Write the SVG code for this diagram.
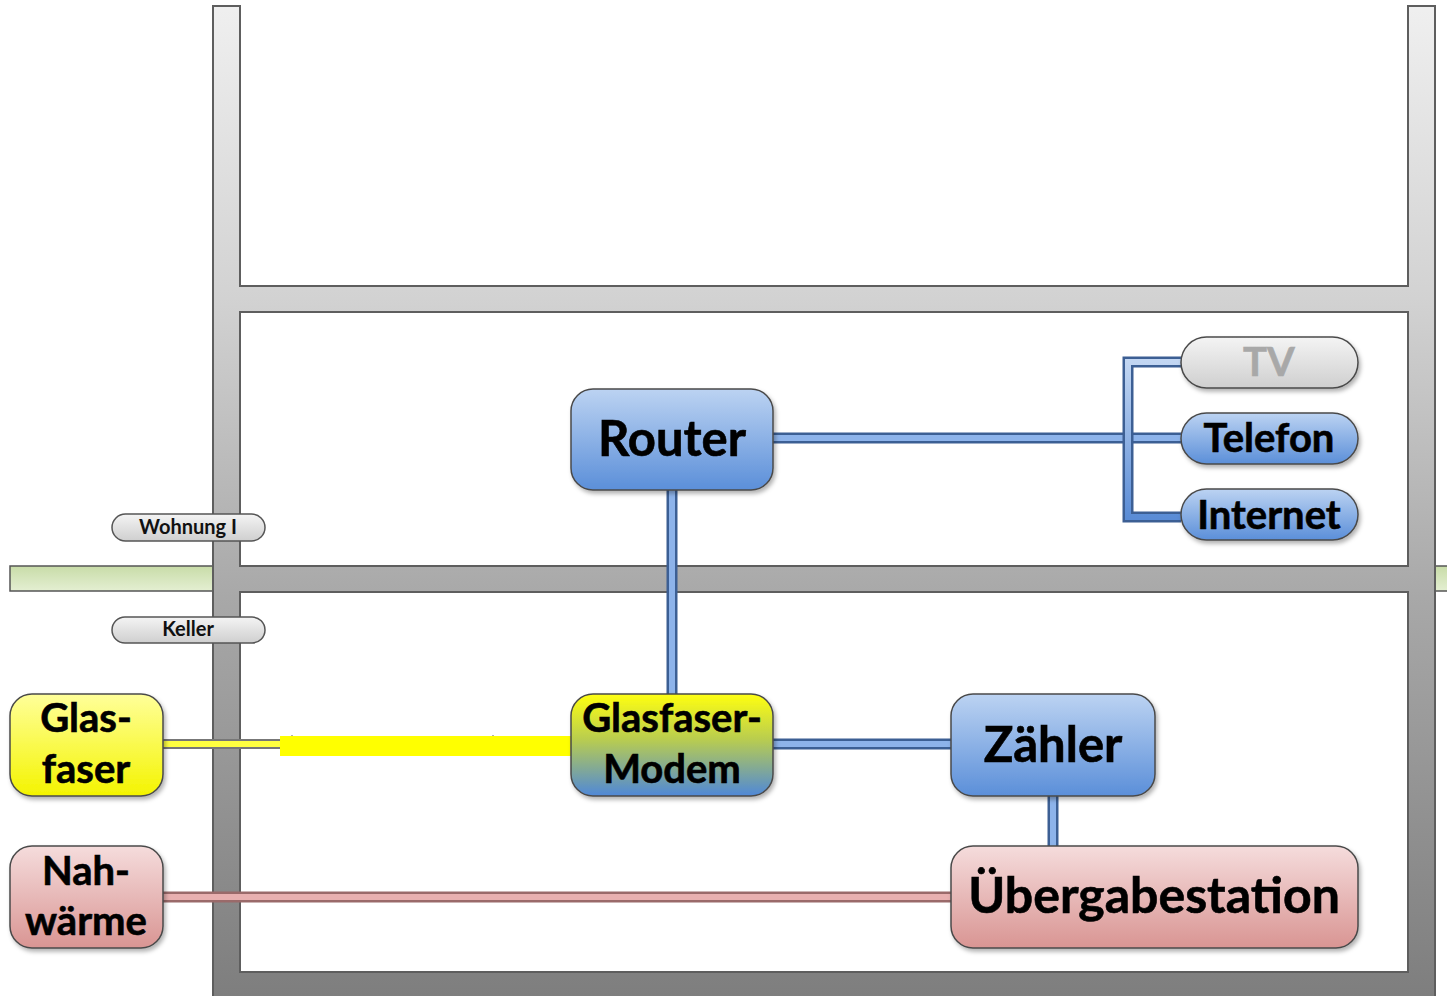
<svg xmlns="http://www.w3.org/2000/svg" width="1447" height="996" viewBox="0 0 1447 996">
<defs>
<linearGradient id="gWall" x1="0" y1="0" x2="0" y2="996" gradientUnits="userSpaceOnUse">
<stop offset="0" stop-color="#f0f0f0"/>
<stop offset="0.3" stop-color="#d2d2d2"/>
<stop offset="0.6" stop-color="#a8a8a8"/>
<stop offset="1" stop-color="#7e7e7e"/>
</linearGradient>
<linearGradient id="gGreen" x1="0" y1="0" x2="0" y2="1">
<stop offset="0" stop-color="#c8dca8"/>
<stop offset="1" stop-color="#e4efd2"/>
</linearGradient>
<linearGradient id="gBlue" x1="0" y1="0" x2="0" y2="1">
<stop offset="0" stop-color="#bcd3f2"/>
<stop offset="1" stop-color="#5b8fd9"/>
</linearGradient>
<linearGradient id="gPink" x1="0" y1="0" x2="0" y2="1">
<stop offset="0" stop-color="#f5dcdc"/>
<stop offset="1" stop-color="#d99593"/>
</linearGradient>
<linearGradient id="gYellow" x1="0" y1="0" x2="0" y2="1">
<stop offset="0" stop-color="#ffff9a"/>
<stop offset="1" stop-color="#f4f400"/>
</linearGradient>
<linearGradient id="gModem" x1="0" y1="0" x2="0" y2="1">
<stop offset="0" stop-color="#ffff10"/>
<stop offset="0.45" stop-color="#b8cc50"/>
<stop offset="1" stop-color="#4f88d8"/>
</linearGradient>
<linearGradient id="gGray" x1="0" y1="0" x2="0" y2="1">
<stop offset="0" stop-color="#f4f4f4"/>
<stop offset="1" stop-color="#cfcfcf"/>
</linearGradient>
<linearGradient id="gBracket" x1="0" y1="0" x2="0" y2="1">
<stop offset="0" stop-color="#c2d6f2"/>
<stop offset="1" stop-color="#5a8cd6"/>
</linearGradient>
<filter id="sh" x="-10%" y="-10%" width="130%" height="130%">
<feDropShadow dx="2" dy="3" stdDeviation="2" flood-color="#000" flood-opacity="0.3"/>
</filter>
</defs>
<style>
.node { stroke: #4a4a4a; stroke-width: 1.5; filter: url(#sh); }
.big { font-family: Lato, "Open Sans", "Liberation Sans", sans-serif; font-weight: bold; fill: #000; text-anchor: middle; stroke: #000; stroke-width: 0.6; }
.lbl { font-family: Lato, "Open Sans", "Liberation Sans", sans-serif; font-weight: bold; fill: #111; text-anchor: middle; font-size: 20px; }
.bOut { stroke: #3c5f94; stroke-width: 11; fill: none; }
.bIn { stroke: #8db3ea; stroke-width: 6; fill: none; }
.pOut { stroke: #9a6a6a; stroke-width: 11; fill: none; }
.pIn { stroke: #e8b0b0; stroke-width: 6; fill: none; }
</style>

<rect x="0" y="0" width="1447" height="996" fill="#fff"/>

<g id="building">
<rect x="10" y="566" width="203" height="25" fill="url(#gGreen)" stroke="#555" stroke-width="1.5"/>
<rect x="1435" y="566" width="14" height="25" fill="url(#gGreen)" stroke="#555" stroke-width="1.5"/>
<path fill="url(#gWall)" stroke="#5e5e5e" stroke-width="2" fill-rule="evenodd"
d="M213,6 H240 V286 H1408 V6 H1435 V1000 H213 Z M240,312 V566 H1408 V312 Z M240,592 V972 H1408 V592 Z"/>
</g>

<g id="connectors">
<path class="bOut" d="M773,438 H1181"/>
<path class="bIn" d="M773,438 H1181"/>
<path d="M1181,362 H1128 V517 H1181" stroke="#3c5f94" stroke-width="11" fill="none"/>
<path d="M1181,362 H1128 V517 H1181" stroke="url(#gBracket)" stroke-width="6" fill="none"/>
<path class="bOut" d="M672,490 V694"/>
<path class="bIn" d="M672,490 V694"/>
<path class="bOut" d="M773,744 H951"/>
<path class="bIn" d="M773,744 H951"/>
<path class="bOut" d="M1053,796 V846"/>
<path class="bIn" d="M1053,796 V846"/>
<path class="pOut" d="M163,897 H951"/>
<path class="pIn" d="M163,897 H951"/>
<path d="M163,744 H292" stroke="#777" stroke-width="10" fill="none"/>
<path d="M163,744 H292" stroke="#ffff40" stroke-width="6" fill="none"/>
<path d="M292,735 V756 M493,735 V756" stroke="#999" stroke-width="1.5" fill="none"/>
<path d="M280,746 H571" stroke="#ffff00" stroke-width="20" fill="none"/>
</g>

<g id="wohnung">
<rect x="112" y="514" width="153" height="27" rx="13.5" fill="url(#gGray)" stroke="#555" stroke-width="1.5"/>
<text class="lbl" x="188" y="534">Wohnung I</text>
</g>
<g id="keller">
<rect x="112" y="617" width="153" height="26" rx="13" fill="url(#gGray)" stroke="#555" stroke-width="1.5"/>
<text class="lbl" x="188" y="636">Keller</text>
</g>

<g id="router">
<rect class="node" x="571" y="389" width="202" height="101" rx="22" fill="url(#gBlue)"/>
<text class="big" x="672" y="456" font-size="49">Router</text>
</g>

<g id="tv">
<rect class="node" x="1181" y="337" width="177" height="51" rx="25.5" fill="url(#gGray)"/>
<text class="big" x="1269" y="376" font-size="40" style="fill:#a8a8a8;stroke:#a8a8a8">TV</text>
</g>
<g id="telefon">
<rect class="node" x="1181" y="413" width="177" height="51" rx="25.5" fill="url(#gBlue)"/>
<text class="big" x="1269" y="452" font-size="40">Telefon</text>
</g>
<g id="internet">
<rect class="node" x="1181" y="489" width="177" height="51" rx="25.5" fill="url(#gBlue)"/>
<text class="big" x="1269" y="529" font-size="40">Internet</text>
</g>

<g id="modem">
<rect class="node" x="571" y="694" width="202" height="102" rx="22" fill="url(#gModem)"/>
<text class="big" x="672" y="732" font-size="40">Glasfaser-</text>
<text class="big" x="672" y="783" font-size="40">Modem</text>
</g>

<g id="zaehler">
<rect class="node" x="951" y="694" width="204" height="102" rx="22" fill="url(#gBlue)"/>
<text class="big" x="1053" y="762" font-size="49">Zähler</text>
</g>

<g id="uebergabestation">
<rect class="node" x="951" y="846" width="407" height="102" rx="22" fill="url(#gPink)"/>
<text class="big" x="1154" y="913" font-size="50">Übergabestation</text>
</g>

<g id="glasfaser">
<rect class="node" x="10" y="694" width="153" height="102" rx="22" fill="url(#gYellow)"/>
<text class="big" x="86" y="732" font-size="40">Glas-</text>
<text class="big" x="86" y="783" font-size="40">faser</text>
</g>

<g id="nahwaerme">
<rect class="node" x="10" y="846" width="153" height="102" rx="22" fill="url(#gPink)"/>
<text class="big" x="86" y="885" font-size="40">Nah-</text>
<text class="big" x="86" y="935" font-size="40">wärme</text>
</g>
</svg>
